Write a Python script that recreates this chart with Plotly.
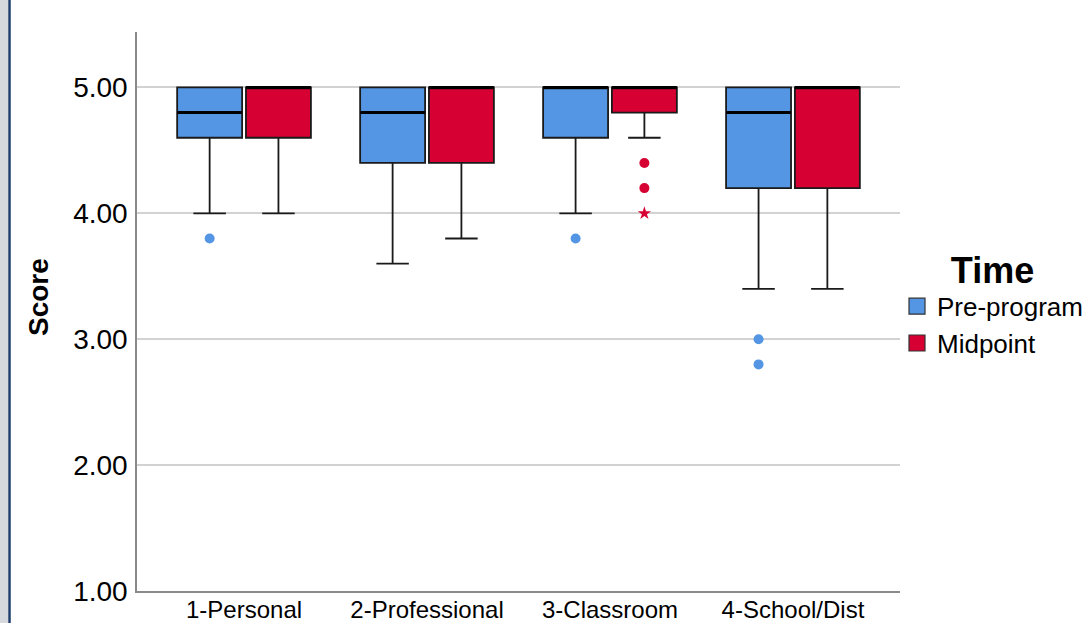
import plotly.graph_objects as go

categories = ["1-Personal", "2-Professional", "3-Classroom", "4-School/Dist"]
y_ticks = [1.0, 2.0, 3.0, 4.0, 5.0]

pre_low = [4.0, 3.6, 4.0, 3.4]
pre_q1 = [4.6, 4.4, 4.6, 4.2]
pre_med = [4.8, 4.8, 5.0, 4.8]
pre_q3 = [5.0, 5.0, 5.0, 5.0]
pre_high = [5.0, 5.0, 5.0, 5.0]
pre_out_cat = [0, 2, 3, 3]
pre_out_val = [3.8, 3.8, 3.0, 2.8]

mid_low = [4.0, 3.8, 4.6, 3.4]
mid_q1 = [4.6, 4.4, 4.8, 4.2]
mid_med = [5.0, 5.0, 5.0, 5.0]
mid_q3 = [5.0, 5.0, 5.0, 5.0]
mid_high = [5.0, 5.0, 5.0, 5.0]
mid_out_cat = [2, 2]
mid_out_val = [4.4, 4.2]
mid_ext_cat = [2]
mid_ext_val = [4.0]

BLUE = "#5496E3"
RED = "#D60032"
FONT = "Liberation Sans, Arial, sans-serif"

OFF = 0.188
W = 0.355

fig = go.Figure()

series = [
    ("Pre-program", -OFF, BLUE, pre_low, pre_q1, pre_med, pre_q3, pre_high),
    ("Midpoint", OFF, RED, mid_low, mid_q1, mid_med, mid_q3, mid_high),
]

for name, off, col, lo, q1, med, q3, hi in series:
    xs = [i + off for i in range(len(categories))]
    fig.add_trace(go.Box(
        x=xs, lowerfence=lo, q1=q1, median=med, q3=q3, upperfence=hi,
        width=W, whiskerwidth=0.5, fillcolor=col,
        line=dict(color="#1a1a1a", width=1.8),
        boxpoints=False, showlegend=False, hoverinfo="skip", name=name,
    ))
    # thick median lines
    mx, my = [], []
    for x, m in zip(xs, med):
        mx += [x - W / 2, x + W / 2, None]
        my += [m, m, None]
    fig.add_trace(go.Scatter(x=mx, y=my, mode="lines",
                             line=dict(color="black", width=3),
                             showlegend=False, hoverinfo="skip"))

fig.add_trace(go.Scatter(
    x=[c - OFF for c in pre_out_cat], y=pre_out_val, mode="markers",
    marker=dict(color=BLUE, size=10, symbol="circle"),
    showlegend=False, hoverinfo="skip"))
fig.add_trace(go.Scatter(
    x=[c + OFF for c in mid_out_cat], y=mid_out_val, mode="markers",
    marker=dict(color=RED, size=10, symbol="circle"),
    showlegend=False, hoverinfo="skip"))
fig.add_trace(go.Scatter(
    x=[c + OFF for c in mid_ext_cat], y=mid_ext_val, mode="markers",
    marker=dict(color=RED, size=10, symbol="star"),
    showlegend=False, hoverinfo="skip"))

for name, off, col, *_ in series:
    fig.add_trace(go.Scatter(
        x=[None], y=[None], mode="markers", name=name,
        marker=dict(color=col, size=16, symbol="square",
                    line=dict(color="#333", width=1.2))))

L, R, T, B = 137, 188, 32, 32
PW, PH = 1088 - L - R, 623 - T - B

fig.update_layout(
    width=1088, height=623,
    margin=dict(l=L, r=R, t=T, b=B, pad=0, autoexpand=False),
    paper_bgcolor="white", plot_bgcolor="white",
    font=dict(family=FONT, color="black", size=20),
    showlegend=True,
    legend=dict(
        x=(897 - L) / PW, y=(591 - 236) / PH, xanchor="left", yanchor="top",
        title=dict(text="<b>Time</b>", side="top center",
                   font=dict(size=36, family=FONT)),
        font=dict(size=26, family=FONT), itemwidth=30,
        bgcolor="rgba(0,0,0,0)", tracegroupgap=0,
    ),
    xaxis=dict(
        range=[-0.585, 3.585], tickmode="array",
        tickvals=list(range(len(categories))), ticktext=categories,
        showgrid=False, zeroline=False, showline=True, automargin=False,
        linecolor="#8a8a8a", linewidth=1.5,
        ticks="", ticklabelstandoff=-4,
        tickfont=dict(size=24, family=FONT),
    ),
    yaxis=dict(
        range=[1.0, 5.44], tickmode="array", tickvals=y_ticks,
        ticktext=[f"{v:.2f}" for v in y_ticks], automargin=False,
        showgrid=True, gridcolor="#d2d2d2", gridwidth=1.5,
        zeroline=False, showline=True, linecolor="#8a8a8a", linewidth=1.5,
        ticks="outside", ticklen=2, tickcolor="rgba(0,0,0,0)",
        tickfont=dict(size=28, family=FONT),
    ),
    annotations=[
        dict(text="<b>Score</b>", xref="paper", yref="paper",
             x=(38 - L) / PW, y=(591 - 297) / PH, xanchor="center",
             yanchor="middle", textangle=-90, showarrow=False,
             font=dict(size=28, family=FONT, color="black")),
    ],
    shapes=[
        dict(type="rect", xref="paper", yref="paper",
             x0=(0 - L) / PW, x1=(8 - L) / PW, y0=-B / PH, y1=(PH + T) / PH,
             fillcolor="#d5d9de", line=dict(width=0), layer="below"),
        dict(type="line", xref="paper", yref="paper",
             x0=(9.5 - L) / PW, x1=(9.5 - L) / PW, y0=-B / PH, y1=(PH + T) / PH,
             line=dict(color="#1f3d6b", width=2.5)),
    ],
)

fig.write_html("out.html", config={"displayModeBar": False},
               post_script="document.body.style.margin='0';document.body.style.overflow='hidden';")
